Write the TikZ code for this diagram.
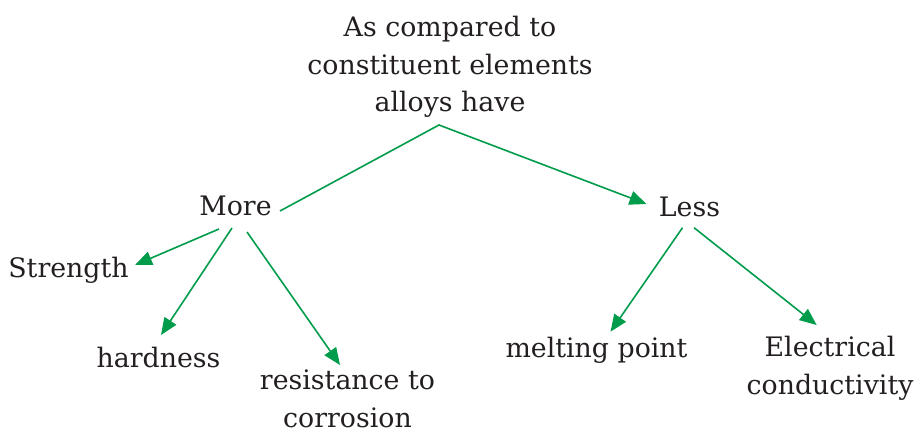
\documentclass[tikz,border=0pt]{standalone}
\usepackage{fontspec}
\setmainfont{DejaVu Serif}
\usetikzlibrary{arrows.meta, positioning}
\definecolor{linkgreen}{RGB}{0,156,75}
\definecolor{inkgray}{RGB}{35,31,32}

\begin{document}
\begin{tikzpicture}[x=1pt,y=1pt]
	\tikzstyle{every node}=[font=\fontsize{26.8}{37.5}\selectfont, text=inkgray, anchor=base, align=center]
	\tikzstyle{link}=[draw=linkgreen, line width=1.6pt, -{Triangle[length=17pt,width=14pt]}]
	\useasboundingbox (0,0) rectangle (917,429);

	% nodes are put on their (last) baseline
	\node (top) at (450,317) {As compared to\\constituent elements\\alloys have};
	\node (more) at (235.5,214) {More};
	\node (less) at (689.5,213) {Less};

	\node (strength) at (68.5,152) {Strength};
	\node (hardness) at (158.5,62) {hardness};
	\node (resist) at (347.5,2) {resistance to\\corrosion};
	\node (melting) at (596.5,72) {melting point};
	\node (electric) at (830,35) {Electrical\\conductivity};

	% one bent line from More over the top down to Less
	\draw[link] ([xshift=44.5pt,yshift=4pt]more.base) -- ([xshift=-11pt,yshift=-13pt]top.base) -- ([xshift=-43pt,yshift=12pt]less.base);

	\draw[link] ([xshift=-16.5pt,yshift=-14pt]more.base) -- ([xshift=66.5pt,yshift=12pt]strength.base);
	\draw[link] ([xshift=-3.5pt,yshift=-13pt]more.base) -- ([xshift=2.5pt,yshift=32pt]hardness.base);
	\draw[link] ([xshift=11.5pt,yshift=-17pt]more.base) -- ([xshift=-7.5pt,yshift=62pt]resist.base);

	\draw[link] ([xshift=-7pt,yshift=-11.7pt]less.base) -- ([xshift=14pt,yshift=25.3pt]melting.base);
	\draw[link] ([xshift=4.5pt,yshift=-11.7pt]less.base) -- ([xshift=-13.3pt,yshift=69pt]electric.base);
\end{tikzpicture}
\end{document}
